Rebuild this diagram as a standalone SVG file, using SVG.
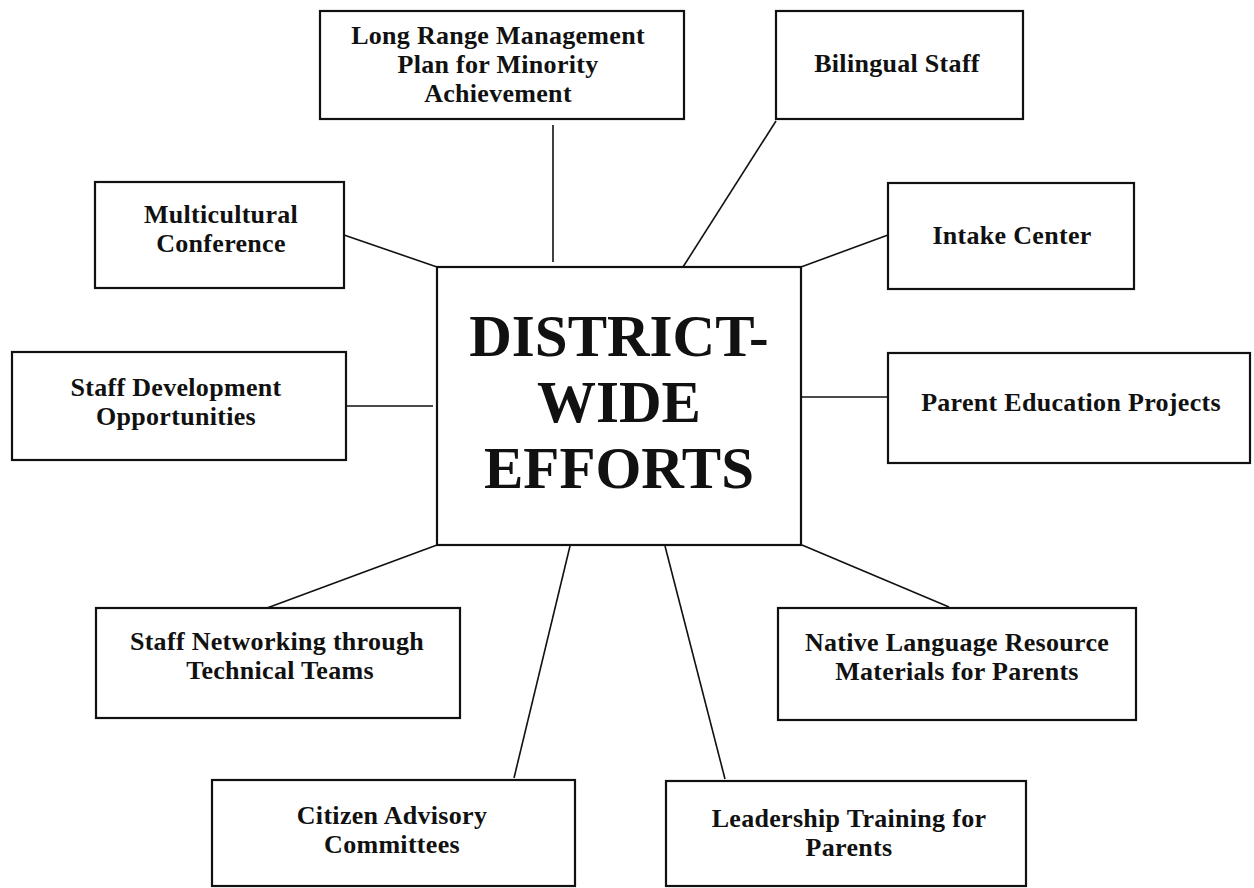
<svg xmlns="http://www.w3.org/2000/svg" width="1254" height="888" viewBox="0 0 1254 888">
<style>
rect.box{fill:#fff;stroke:#111;stroke-width:2.2}
text{font-family:"Liberation Serif","Times New Roman",serif;font-weight:bold;fill:#111;text-anchor:middle}
text.lbl{font-size:26px;letter-spacing:0.3px}
text.title{font-size:59px}
#connectors line{stroke:#111;stroke-width:1.6}
</style>
<rect x="0" y="0" width="1254" height="888" fill="#fff"/>
<g id="connectors">
<line x1="553" y1="125" x2="553" y2="262"/>
<line x1="776" y1="121" x2="683" y2="267"/>
<line x1="344" y1="235" x2="437" y2="267"/>
<line x1="801" y1="267" x2="888" y2="235"/>
<line x1="346" y1="406" x2="433" y2="406"/>
<line x1="801" y1="397" x2="888" y2="397"/>
<line x1="437" y1="545" x2="267" y2="608"/>
<line x1="570" y1="546" x2="514" y2="778"/>
<line x1="665" y1="546" x2="725" y2="779"/>
<line x1="802" y1="545" x2="949" y2="607"/>
</g>
<g id="center">
<rect class="box" x="437" y="267" width="364" height="278"/>
<text class="title" x="619" y="356">DISTRICT-</text>
<text class="title" x="619" y="422">WIDE</text>
<text class="title" x="619" y="488">EFFORTS</text>
</g>
<g id="long-range">
<rect class="box" x="320" y="11" width="364" height="108"/>
<text class="lbl" x="498" y="44">Long Range Management</text>
<text class="lbl" x="498" y="73">Plan for Minority</text>
<text class="lbl" x="498" y="102">Achievement</text>
</g>
<g id="bilingual">
<rect class="box" x="776" y="11" width="247" height="108"/>
<text class="lbl" x="897" y="72">Bilingual Staff</text>
</g>
<g id="multicultural">
<rect class="box" x="95" y="182" width="249" height="106"/>
<text class="lbl" x="221" y="223">Multicultural</text>
<text class="lbl" x="221" y="252">Conference</text>
</g>
<g id="intake">
<rect class="box" x="888" y="183" width="246" height="106"/>
<text class="lbl" x="1012" y="244">Intake Center</text>
</g>
<g id="staff-dev">
<rect class="box" x="12" y="352" width="334" height="108"/>
<text class="lbl" x="176" y="396">Staff Development</text>
<text class="lbl" x="176" y="425">Opportunities</text>
</g>
<g id="parent-ed">
<rect class="box" x="888" y="353" width="362" height="110"/>
<text class="lbl" x="1071" y="411">Parent Education Projects</text>
</g>
<g id="staff-net">
<rect class="box" x="96" y="608" width="364" height="110"/>
<text class="lbl" x="277" y="650">Staff Networking through</text>
<text class="lbl" x="280" y="679">Technical Teams</text>
</g>
<g id="native-lang">
<rect class="box" x="778" y="608" width="358" height="112"/>
<text class="lbl" x="957" y="651">Native Language Resource</text>
<text class="lbl" x="957" y="680">Materials for Parents</text>
</g>
<g id="citizen">
<rect class="box" x="212" y="780" width="363" height="106"/>
<text class="lbl" x="392" y="824">Citizen Advisory</text>
<text class="lbl" x="392" y="853">Committees</text>
</g>
<g id="leadership">
<rect class="box" x="666" y="781" width="360" height="105"/>
<text class="lbl" x="849" y="827">Leadership Training for</text>
<text class="lbl" x="849" y="856">Parents</text>
</g>
</svg>
